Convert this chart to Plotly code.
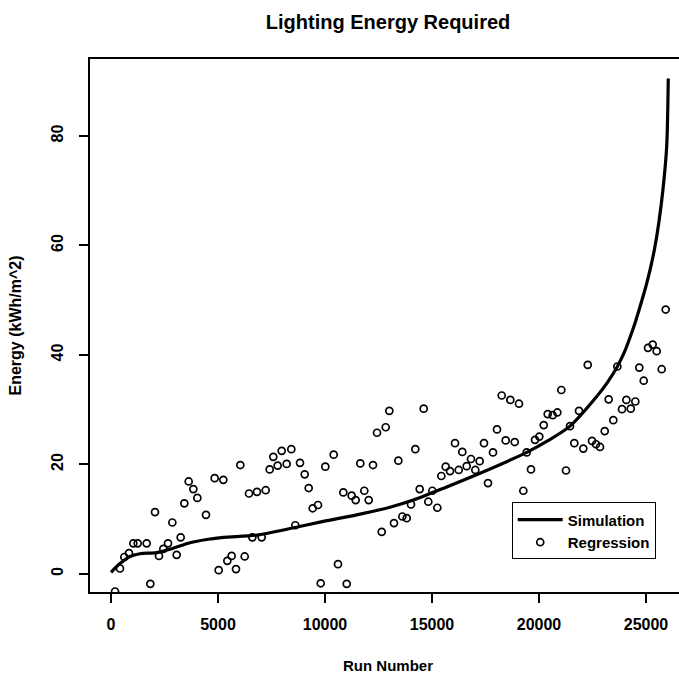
import plotly.graph_objects as go

# Simulation curve
sim_run = [0, 420, 888, 1355, 2134, 2913, 3692, 4472, 5249, 6807, 8364, 9921,
           11480, 13037, 14127, 15686, 17243, 19424, 20358, 21449, 22696, 23200,
           23661, 24000, 24252, 24500, 24720, 25000, 25187, 25400, 25600, 25800,
           25966, 26040]
sim_energy = [0.3, 1.9, 3.2, 3.7, 3.9, 4.7, 5.7, 6.3, 6.7, 7.1, 8.3, 9.6,
              10.8, 12.2, 13.5, 15.9, 18.4, 22.2, 24.2, 27.0, 32.4, 35.0,
              37.9, 40.6, 43.2, 46.0, 48.8, 52.6, 55.5, 59.4, 64.2, 70.5,
              78.0, 90.5]

# Regression points
reg_run = [190, 420, 623, 841, 1044, 1246, 1667, 1838, 2056, 2243, 2445, 2664, 2866,
           3069, 3256, 3427, 3630, 3848, 4035, 4439, 4844, 5031, 5249, 5436,
           5638, 5841, 6043, 6247, 6449, 6604, 6822, 7042, 7229, 7415, 7585,
           7788, 7975, 8209, 8426, 8613, 8832, 9051, 9238, 9425, 9673, 9799,
           10015, 10407, 10607, 10857, 11014, 11248, 11435, 11650, 11837, 12042,
           12243, 12430, 12650, 12837, 13006, 13224, 13427, 13614, 13818, 14019,
           14220, 14425, 14612, 14827, 15015, 15248, 15435, 15640, 15841, 16075,
           16248, 16416, 16621, 16822, 17024, 17228, 17430, 17617, 17850, 18037,
           18257, 18444, 18660, 18866, 19065, 19268, 19424, 19626, 19813, 20015,
           20221, 20407, 20640, 20856, 21043, 21262, 21449, 21650, 21869, 22071,
           22277, 22477, 22664, 22850, 23071, 23256, 23472, 23661, 23879, 24082,
           24287, 24501, 24688, 24893, 25093, 25313, 25500, 25733, 25920]
reg_energy = [-3.2, 1.0, 3.1, 3.8, 5.6, 5.6, 5.6, -1.8, 11.3, 3.3, 4.6, 5.6, 9.4,
              3.5, 6.7, 12.9, 16.9, 15.5, 13.9, 10.8, 17.5, 0.7, 17.2, 2.4,
              3.3, 0.9, 19.9, 3.2, 14.7, 6.7, 15.0, 6.7, 15.3, 19.1, 21.4,
              19.8, 22.5, 20.1, 22.8, 8.9, 20.3, 18.2, 15.7, 12.0, 12.6, -1.7,
              19.6, 21.8, 1.8, 14.9, -1.8, 14.3, 13.5, 20.2, 15.2, 13.5,
              19.9, 25.8, 7.7, 26.8, 29.8, 9.3, 20.7, 10.5, 10.2, 12.7,
              22.8, 15.5, 30.2, 13.2, 15.2, 12.1, 17.9, 19.6, 18.8, 23.9,
              19.0, 22.3, 19.7, 21.0, 19.0, 20.6, 23.9, 16.6, 22.2, 26.4,
              32.6, 24.4, 31.8, 24.1, 31.1, 15.2, 22.2, 19.1, 24.5, 25.1,
              27.2, 29.2, 29.0, 29.5, 33.6, 18.9, 27.0, 23.9, 29.8, 22.9,
              38.2, 24.3, 23.7, 23.2, 26.1, 31.9, 28.1, 37.9, 30.1, 31.8,
              30.2, 31.5, 37.7, 35.3, 41.3, 41.9, 40.7, 37.4, 48.3]

x_ticks = [0, 5000, 10000, 15000, 20000, 25000]
y_ticks = [0, 20, 40, 60, 80]

FONT = "Liberation Sans, Arial, Helvetica, sans-serif"

fig = go.Figure()
fig.add_trace(go.Scatter(
    x=sim_run, y=sim_energy, mode="lines", name="Simulation",
    line=dict(color="black", width=3.2, shape="spline", smoothing=0.8),
))
fig.add_trace(go.Scatter(
    x=reg_run, y=reg_energy, mode="markers", name="Regression",
    marker=dict(symbol="circle-open", size=7, color="black",
                line=dict(color="black", width=1.7)),
))

fig.update_layout(
    width=679, height=675,
    margin=dict(l=90, r=0, t=59, b=83),
    paper_bgcolor="white", plot_bgcolor="white",
    font=dict(family=FONT, color="black", size=15),
    title=dict(text="<b>Lighting Energy Required</b>", x=0.506, xanchor="center",
               xref="paper", y=1 - 22 / 675, yanchor="middle", yref="container",
               font=dict(size=20, family=FONT, color="black")),
    showlegend=True,
    legend=dict(x=0.716, y=0.168, xanchor="left", yanchor="top",
                bordercolor="black", borderwidth=1, bgcolor="white",
                font=dict(size=15, family=FONT, color="black", weight="bold"),
                itemwidth=45, tracegroupgap=0),
)

fig.update_xaxes(
    range=[-981, 26542], tickvals=x_ticks, ticktext=[str(v) for v in x_ticks],
    showgrid=False, zeroline=False, showline=True, linecolor="black", linewidth=2,
    mirror=True, ticks="outside", ticklen=9, tickwidth=1.5, tickcolor="black",
    ticklabelstandoff=8, tickfont=dict(size=16, weight="bold"),
)
fig.update_yaxes(
    range=[-3.29, 94.06], tickvals=y_ticks, ticktext=[str(v) for v in y_ticks],
    showgrid=False, zeroline=False, showline=True, linecolor="black", linewidth=2,
    mirror=False, ticks="outside", ticklen=9, tickwidth=1.5, tickcolor="black",
    tickangle=-90, ticklabelstandoff=10, tickfont=dict(size=16, weight="bold"),
)

fig.add_annotation(text="<b>Run Number</b>", xref="paper", yref="paper",
                   x=0.506, y=0, yshift=-73, xanchor="center", yanchor="middle",
                   showarrow=False, font=dict(size=15, family=FONT, color="black"))
fig.add_annotation(text="<b>Energy (kWh/m^2)</b>", xref="paper", yref="paper",
                   x=0, y=0.5, xshift=-75, xanchor="center", yanchor="middle",
                   textangle=-90, showarrow=False,
                   font=dict(size=16, family=FONT, color="black"))

fig.write_html("out.html")
